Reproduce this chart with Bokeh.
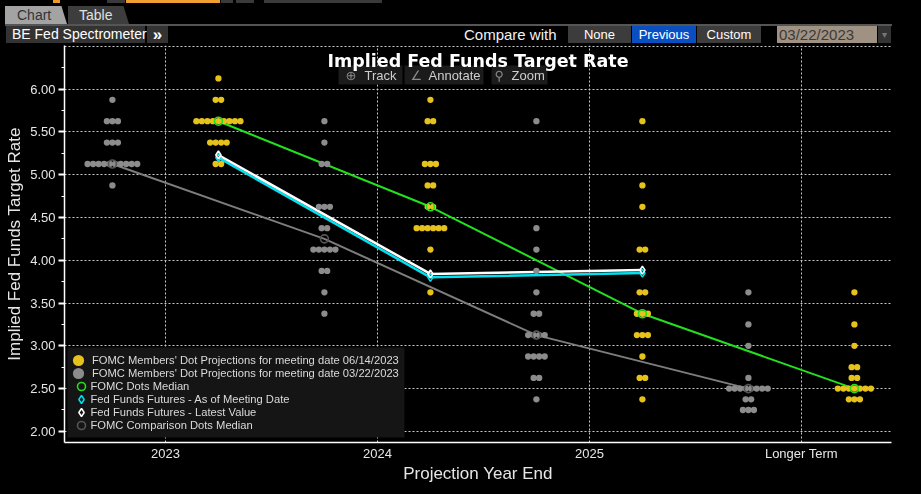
from bokeh.plotting import figure
from bokeh.models import (Range1d, FixedTicker, PrintfTickFormatter, Legend, LegendItem,
                          BoxAnnotation, Label, Div)
from bokeh.layouts import column
from bokeh.embed import file_html
from bokeh.resources import INLINE

# ---------------- data ----------------
years = ["2023", "2024", "2025", "Longer Term"]

# FOMC dot projections, meeting 06/14/2023 (rate level, number of dots)
jun_2023_levels = [6.125, 5.875, 5.625, 5.375, 5.125]
jun_2023_counts = [1, 2, 9, 4, 2]
jun_2024_levels = [5.875, 5.625, 5.125, 4.875, 4.625, 4.375, 4.125, 3.625]
jun_2024_counts = [1, 2, 3, 2, 2, 6, 1, 1]
jun_2025_levels = [5.625, 4.875, 4.625, 4.125, 3.625, 3.375, 3.125, 2.875, 2.625, 2.375]
jun_2025_counts = [1, 1, 1, 2, 2, 3, 3, 1, 2, 1]
jun_lr_levels = [3.625, 3.25, 3.0, 2.75, 2.625, 2.5, 2.375]
jun_lr_counts = [1, 1, 1, 2, 2, 7, 3]

# FOMC dot projections, meeting 03/22/2023
mar_2023_levels = [5.875, 5.625, 5.375, 5.125, 4.875]
mar_2023_counts = [1, 3, 3, 10, 1]
mar_2024_levels = [5.625, 5.375, 5.125, 4.625, 4.375, 4.125, 3.875, 3.625, 3.375]
mar_2024_counts = [1, 1, 2, 3, 2, 5, 2, 1, 1]
mar_2025_levels = [5.625, 4.375, 4.125, 3.875, 3.625, 3.375, 3.125, 2.875, 2.625, 2.375]
mar_2025_counts = [1, 1, 1, 1, 1, 2, 4, 4, 2, 1]
mar_lr_levels = [3.625, 3.25, 3.0, 2.625, 2.5, 2.375, 2.25]
mar_lr_counts = [1, 1, 1, 1, 8, 2, 3]

jun_median = [5.625, 4.625, 3.375, 2.5]
mar_median = [5.125, 4.25, 3.125, 2.5]
ff_latest = [5.23, 3.84, 3.885]
ff_meeting = [5.20, 3.80, 3.85]

y_ticks = [2.0, 2.5, 3.0, 3.5, 4.0, 4.5, 5.0, 5.5, 6.0]
y_minor = [2.25, 2.75, 3.25, 3.75, 4.25, 4.75, 5.25, 5.75, 6.25]
y_grid = y_ticks + [6.5]

legend_labels = [
    "FOMC Members' Dot Projections for meeting date 06/14/2023",
    "FOMC Members' Dot Projections for meeting date 03/22/2023",
    "FOMC Dots Median",
    "Fed Funds Futures - As of Meeting Date",
    "Fed Funds Futures - Latest Value",
    "FOMC Comparison Dots Median",
]

# ---------------- layout helpers ----------------
DOT_STEP = 0.026
JUN_SIDE = 0.25
MAR_SIDE = -0.25


def swarm(levels_by_year, counts_by_year, side):
    xs, ys = [], []
    for i, (lv, ct) in enumerate(zip(levels_by_year, counts_by_year)):
        for v, n in zip(lv, ct):
            for k in range(n):
                xs.append(i + side + (k - (n - 1) / 2) * DOT_STEP)
                ys.append(v)
    return xs, ys


jx, jy = swarm([jun_2023_levels, jun_2024_levels, jun_2025_levels, jun_lr_levels],
               [jun_2023_counts, jun_2024_counts, jun_2025_counts, jun_lr_counts], JUN_SIDE)
mx, my = swarm([mar_2023_levels, mar_2024_levels, mar_2025_levels, mar_lr_levels],
               [mar_2023_counts, mar_2024_counts, mar_2025_counts, mar_lr_counts], MAR_SIDE)
yel_x = [i + JUN_SIDE for i in range(len(years))]
gry_x = [i + MAR_SIDE for i in range(len(years))]

YELLOW = "#e6c21a"
GREY = "#8c8c8c"
GREEN = "#22e01e"
CYAN = "#00e0ee"
TXT = "#e6e6e6"
FONT = "Liberation Sans"

p = figure(width=921, height=449, x_range=Range1d(-0.476, 3.425), y_range=Range1d(1.87, 6.51),
           output_backend="svg", toolbar_location=None, title=None,
           min_border_left=64, min_border_right=30, min_border_top=0, min_border_bottom=52,
           background_fill_color="black", border_fill_color="black", outline_line_color=None)

# axes
p.xaxis.ticker = FixedTicker(ticks=list(range(len(years))))
p.xaxis.major_label_overrides = {i: y for i, y in enumerate(years)}
p.xaxis.axis_line_color = "white"
p.xaxis.axis_line_width = 1.5
p.xaxis.major_tick_line_color = None
p.xaxis.major_tick_out = 0
p.xaxis.major_tick_in = 0
p.xaxis.minor_tick_line_color = None
p.xaxis.minor_tick_out = 0
p.xaxis.minor_tick_in = 0
p.xaxis.major_label_standoff = 3
p.xaxis.major_label_text_font = FONT
p.xaxis.major_label_text_font_size = "13px"
p.xaxis.major_label_text_color = TXT
p.xaxis.axis_label = "Projection Year End"
p.xaxis.axis_label_text_font = FONT
p.xaxis.axis_label_text_font_size = "17px"
p.xaxis.axis_label_text_font_style = "normal"
p.xaxis.axis_label_text_color = TXT
p.xaxis.axis_label_standoff = 0
p.xaxis.axis_label_text_line_height = 0.9

p.yaxis.ticker = FixedTicker(ticks=y_ticks, minor_ticks=y_minor)
p.yaxis.formatter = PrintfTickFormatter(format="%.2f")
p.yaxis.axis_line_color = "white"
p.yaxis.axis_line_width = 1.5
p.yaxis.major_tick_line_color = "white"
p.yaxis.major_tick_line_width = 2
p.yaxis.major_tick_out = 6
p.yaxis.major_tick_in = 0
p.yaxis.minor_tick_line_color = "white"
p.yaxis.minor_tick_out = 3
p.yaxis.minor_tick_in = 0
p.yaxis.major_label_standoff = 3
p.yaxis.major_label_text_font = FONT
p.yaxis.major_label_text_font_size = "13px"
p.yaxis.major_label_text_color = TXT
p.yaxis.axis_label = "Implied Fed Funds Target Rate"
p.yaxis.axis_label_text_font = FONT
p.yaxis.axis_label_text_font_size = "17px"
p.yaxis.axis_label_text_font_style = "normal"
p.yaxis.axis_label_text_color = TXT
p.yaxis.axis_label_standoff = 3

p.xgrid.grid_line_color = "#c8c8c8"
p.xgrid.grid_line_dash = "2 2"
p.ygrid.ticker = FixedTicker(ticks=y_grid)
p.ygrid.grid_line_color = "#c8c8c8"
p.ygrid.grid_line_dash = "2 2"

# lines
p.line(gry_x, mar_median, line_color="#7d7d7d", line_width=2)
p.line(yel_x, jun_median, line_color=GREEN, line_width=2)
p.line(yel_x[:3], ff_meeting, line_color=CYAN, line_width=2.5)
p.line(yel_x[:3], ff_latest, line_color="white", line_width=2.5)

# dots
r_mar = p.scatter(mx, my, size=6.3, fill_color=GREY, line_color=None)
r_jun = p.scatter(jx, jy, size=6.3, fill_color=YELLOW, line_color=None)
r_med = p.scatter(yel_x, jun_median, size=8, fill_color=None, line_color=GREEN, line_width=1.6)
r_cmp = p.scatter(gry_x, mar_median, size=8, fill_color=None, line_color="#555555", line_width=1.6)
r_ffm = p.scatter(yel_x[:3], ff_meeting, marker="diamond", size=8, fill_color=None,
                  line_color=CYAN, line_width=1.5)
r_ffl = p.scatter(yel_x[:3], ff_latest, marker="diamond", size=8, fill_color=None,
                  line_color="white", line_width=1.5)

# legend: dark box + one single-item legend per row
p.add_layout(BoxAnnotation(left=3, right=340, bottom=5, top=95, left_units="screen",
                           right_units="screen", top_units="screen", bottom_units="screen",
                           fill_color="#151515", fill_alpha=1, line_color=None))
legend_rows = [
    (r_jun, 28, 0, 68),
    (r_mar, 28, 0, 55),
    (r_med, 20, 6.5, 46),
    (r_ffm, 20, 6.5, 33),
    (r_ffl, 20, 6.5, 20),
    (r_cmp, 20, 6.5, 7),
]
for lab, (rend, g, lx, ly) in zip(legend_labels, legend_rows):
    p.add_layout(Legend(items=[LegendItem(label=lab, renderers=[rend])], location=(lx, ly),
                        glyph_width=g, glyph_height=g, spacing=0, label_standoff=0,
                        padding=0, margin=0, background_fill_alpha=0, border_line_color=None,
                        label_text_color="#dadada", label_text_font=FONT,
                        label_text_font_size="11.2px", label_height=13))

# in-plot title and tool buttons
for l, r in [(274, 338), (340, 419), (427, 483)]:
    p.add_layout(BoxAnnotation(left=l, right=r, bottom=358, top=377, left_units="screen",
                               right_units="screen", top_units="screen", bottom_units="screen",
                               fill_color="#1b1b1b", fill_alpha=1, line_color=None))
for x, t, c, f in [(281, "\u2295", "#8a8a8a", "DejaVu Sans"), (300, "Track", "#cfcfcf", FONT),
                   (346, "\u2220", "#8a8a8a", "DejaVu Sans"), (364, "Annotate", "#cfcfcf", FONT),
                   (430, "\u26b2", "#8a8a8a", "DejaVu Sans"), (447, "Zoom", "#cfcfcf", FONT)]:
    p.add_layout(Label(x=x, y=367, x_units="screen", y_units="screen", text=t, text_color=c,
                       text_font=f, text_font_size="13px", text_baseline="middle"))
p.add_layout(Label(x=413.5, y=382, x_units="screen", y_units="screen",
                   text="Implied Fed Funds Target Rate", text_align="center",
                   text_baseline="middle", text_font="DejaVu Sans", text_font_style="bold",
                   text_font_size="17.5px", text_color="white"))


# ---------------- header ----------------
def box(left, top, w, h, bg, text="", color="#fff", size=13, align="left", pad=0, extra=""):
    return (f'<div style="position:absolute;left:{left}px;top:{top}px;width:{w}px;height:{h}px;'
            f'background:{bg};color:{color};font-size:{size}px;line-height:{h}px;'
            f'text-align:{align};padding-left:{pad}px;box-sizing:border-box;white-space:nowrap;{extra}">'
            f'{text}</div>')


tab_clip = "clip-path:polygon(0 0,91% 0,100% 100%,0 100%);"
hdr_html = (
    '<div style="position:fixed;left:0;top:0;right:0;bottom:0;background:#000;z-index:-1"></div>'
    '<div style="position:relative;width:921px;height:45px;background:#000;overflow:hidden;'
    "font-family:'Liberation Sans',Arial,sans-serif;\">"
    + box(53, 0, 7, 3, "#e89a2a")
    + box(107, 0, 18, 3, "#3a3a3a")
    + box(126, 0, 94, 3, "#f0a030")
    + box(221, 0, 12, 3, "#3a3a3a")
    + box(236, 0, 18, 3, "#3a3a3a")
    + box(264, 0, 118, 3, "#3a3a3a")
    + box(5, 6, 62, 18, "#a3a3a3", "Chart", "#333", 14, pad=12, extra=tab_clip)
    + box(68, 6, 61, 18, "#3d3d3d", "Table", "#e0e0e0", 14, pad=11, extra=tab_clip)
    + box(5, 24, 887, 2, "#555")
    + box(6, 26, 139, 17, "#333", "BE Fed Spectrometer", "#fff", 14, pad=6)
    + box(147, 26, 21, 17, "#333", "&#187;", "#fff", 17, align="center", extra="font-weight:bold;")
    + box(463, 26, 100, 17, "#000", "Compare with", "#f2f2f2", 15, pad=1)
    + box(568, 26, 63, 17, "#3c3c3c", "None", "#fff", 13, align="center")
    + box(632, 26, 64, 17, "#0a4fc2", "Previous", "#fff", 13, align="center")
    + box(697, 26, 64, 17, "#3c3c3c", "Custom", "#fff", 13, align="center")
    + box(777, 26, 100, 17, "#a09282", "03/22/2023", "#3a3a3a", 15, pad=2)
    + box(878, 26, 13, 17, "#333", "&#9662;", "#777", 10, align="center")
    + '</div>'
)
hdr = Div(text=hdr_html, width=921, height=45, margin=(0, 0, 0, 0),
          styles={"background-color": "#000"})

layout = column(hdr, p, spacing=0)
open("out.html", "w").write(file_html(layout, INLINE))
